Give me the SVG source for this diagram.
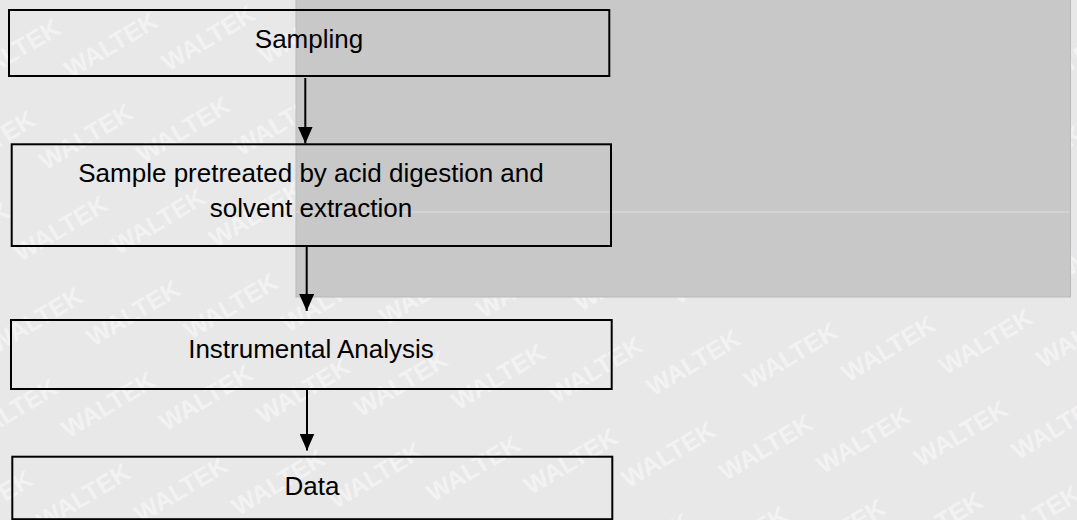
<svg xmlns="http://www.w3.org/2000/svg" xmlns:xlink="http://www.w3.org/1999/xlink" width="1077" height="520" viewBox="0 0 1077 520">
<style>
.box{fill:none;stroke:#000;stroke-width:2}
.lbl{font-family:"Liberation Sans",Arial,sans-serif;font-size:26px;fill:#000;text-anchor:middle}
.conn{stroke:#000;stroke-width:2;fill:none;marker-end:url(#arr)}
.wmt{font-family:"Liberation Sans",Arial,sans-serif;font-weight:bold;font-size:25px;fill:#fff;fill-opacity:0.45}
</style>
<defs>
<marker id="arr" markerUnits="userSpaceOnUse" viewBox="0 0 17 15" refX="17" refY="7.5" markerWidth="17" markerHeight="15" orient="auto">
<path d="M0,0 L17,7.5 L0,15 Z" fill="#000"/>
</marker>
<text id="wm" class="wmt" transform="rotate(-31)">WALTEK</text>
<g id="wmrow">
<use xlink:href="#wm" x="0" y="0"/>
<use xlink:href="#wm" x="97.5" y="-7"/>
<use xlink:href="#wm" x="195" y="-14"/>
<use xlink:href="#wm" x="292.5" y="-21"/>
<use xlink:href="#wm" x="390" y="-28"/>
<use xlink:href="#wm" x="487.5" y="-35"/>
<use xlink:href="#wm" x="585" y="-42"/>
<use xlink:href="#wm" x="682.5" y="-49"/>
<use xlink:href="#wm" x="780" y="-56"/>
<use xlink:href="#wm" x="877.5" y="-63"/>
<use xlink:href="#wm" x="975" y="-70"/>
<use xlink:href="#wm" x="1072.5" y="-77"/>
</g>
</defs>
<rect id="background" x="0" y="0" width="1077" height="520" fill="#e8e8e8"/>
<g id="watermark">
<use xlink:href="#wmrow" x="-26.7" y="86"/>
<use xlink:href="#wmrow" x="-51.7" y="177.7"/>
<use xlink:href="#wmrow" x="-76.7" y="269.3"/>
<use xlink:href="#wmrow" x="-4.2" y="354"/>
<use xlink:href="#wmrow" x="-29.2" y="445.7"/>
<use xlink:href="#wmrow" x="-54.2" y="537.4"/>
<use xlink:href="#wmrow" x="-79.2" y="629.1"/>
</g>
<g id="grey-panel">
<rect x="296" y="-1" width="774.5" height="298" fill="#c8c8c8" stroke="#b9b9b9" stroke-width="1"/>
<line x1="296" y1="212" x2="1070" y2="212" stroke="#dedede" stroke-width="1"/>
</g>
<g id="connectors">
<line class="conn" x1="305.3" y1="78" x2="305.3" y2="143.5"/>
<line class="conn" x1="306.7" y1="247" x2="306.7" y2="311"/>
<line class="conn" x1="307" y1="390" x2="307" y2="450.5"/>
</g>
<g id="node-sampling">
<rect class="box" x="9" y="10" width="600.3" height="66"/>
<text class="lbl" x="309" y="47.5">Sampling</text>
</g>
<g id="node-pretreatment">
<rect class="box" x="11.7" y="144.3" width="599.3" height="101.7"/>
<text class="lbl" x="311" y="181.7">Sample pretreated by acid digestion and</text>
<text class="lbl" x="311" y="217.3">solvent extraction</text>
</g>
<g id="node-analysis">
<rect class="box" x="11" y="320" width="600.7" height="69"/>
<text class="lbl" x="311" y="357.5">Instrumental Analysis</text>
</g>
<g id="node-data">
<rect class="box" x="12.3" y="456.7" width="600" height="62.5"/>
<text class="lbl" x="312" y="495">Data</text>
</g>
</svg>
